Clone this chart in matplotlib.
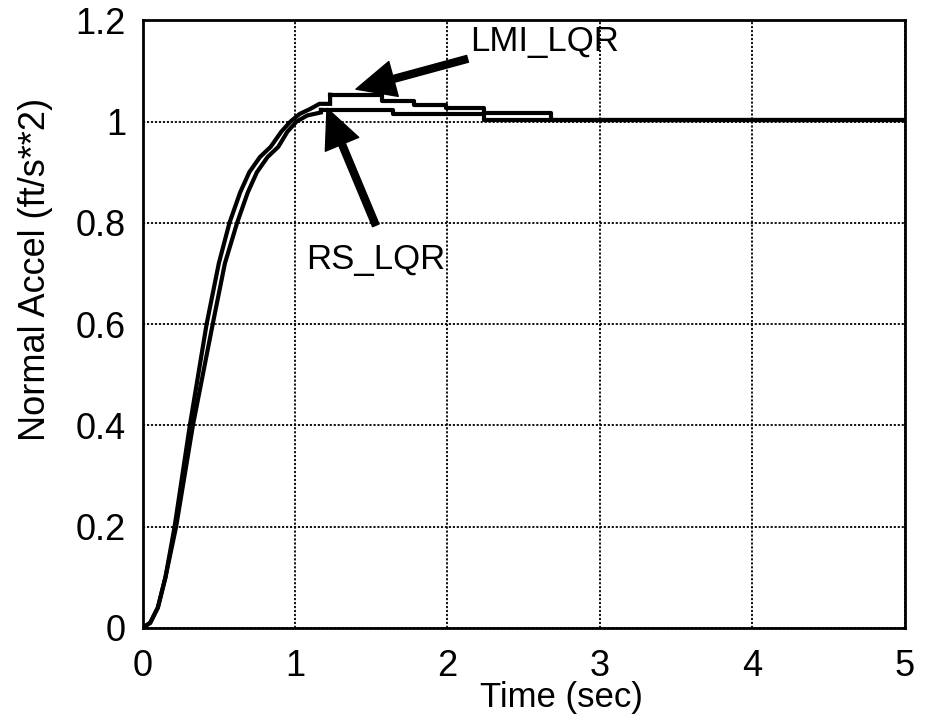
import numpy as np
import matplotlib
matplotlib.use("Agg")
from matplotlib import pyplot as plt

plt.rcParams['font.family'] = ['Liberation Sans', 'DejaVu Sans']

# LMI_LQR response: smooth rise, then held (stepped) overshoot
lmi_rise_t = [0, 0.05, 0.10, 0.15, 0.21, 0.31, 0.42, 0.50, 0.57, 0.64, 0.70, 0.77, 0.84, 0.91, 0.97, 1.03, 1.10, 1.16, 1.23]
lmi_rise_y = [0, 0.01, 0.04, 0.10, 0.20, 0.40, 0.60, 0.72, 0.80, 0.86, 0.90, 0.93, 0.95, 0.98, 1.00, 1.015, 1.025, 1.035, 1.035]
lmi_step_t = [1.23, 1.57, 1.78, 1.99, 2.24, 2.68, 5.0]
lmi_step_y = [1.053, 1.040, 1.033, 1.026, 1.016, 1.003, 1.003]

# RS_LQR response
rs_rise_t = [0, 0.05, 0.10, 0.15, 0.22, 0.33, 0.46, 0.54, 0.62, 0.69, 0.75, 0.82, 0.89, 0.95, 1.01, 1.08, 1.17]
rs_rise_y = [0, 0.01, 0.04, 0.10, 0.20, 0.40, 0.60, 0.72, 0.80, 0.86, 0.90, 0.93, 0.95, 0.98, 1.00, 1.012, 1.018]
rs_step_t = [1.17, 1.64, 2.24, 5.0]
rs_step_y = [1.023, 1.015, 1.004, 1.004]

fig = plt.figure(figsize=(9.26, 7.25), dpi=100)
ax = fig.add_axes([0.154, 0.134, 0.823, 0.838])

for rt, ry, st, sy in [(lmi_rise_t, lmi_rise_y, lmi_step_t, lmi_step_y),
                       (rs_rise_t, rs_rise_y, rs_step_t, rs_step_y)]:
    # join the end of the rise onto the first held level
    ax.plot(rt + [st[0]], ry + [sy[0]], color='black', lw=3, solid_joinstyle='miter')
    ax.step(st, sy, where='post', color='black', lw=3)

ax.set_xlim(0, 5)
ax.set_ylim(0, 1.2)
ax.set_xticks([0, 1, 2, 3, 4, 5])
ax.set_yticks([0, 0.2, 0.4, 0.6, 0.8, 1.0, 1.2])
ax.set_yticklabels(['0', '0.2', '0.4', '0.6', '0.8', '1', '1.2'])
ax.grid(True, color='black', linestyle=(0, (1.2, 1.0)), lw=1.3)
ax.tick_params(labelsize=26, length=0)
ax.tick_params(axis='x', pad=15)
ax.tick_params(axis='y', pad=12)
for s in ax.spines.values():
    s.set_linewidth(2)

ax.set_xlabel('Time (sec)', fontsize=25)
ax.set_ylabel('Normal Accel (ft/s**2)', fontsize=26)
ax.xaxis.set_label_coords(0.55, -0.088)
ax.yaxis.set_label_coords(-0.118, 0.59)

arrow = dict(facecolor='black', edgecolor='black', width=5, headwidth=26, headlength=28, shrink=0)
ax.annotate('LMI_LQR', xy=(1.40, 1.064), xytext=(2.15, 1.158), fontsize=25,
            va='center', ha='left', arrowprops=arrow)
ax.annotate('', xy=(1.21, 1.026), xytext=(1.53, 0.795), arrowprops=arrow)
ax.text(1.07, 0.728, 'RS_LQR', fontsize=25, va='center', ha='left')

fig.savefig('out.png', dpi=100)
